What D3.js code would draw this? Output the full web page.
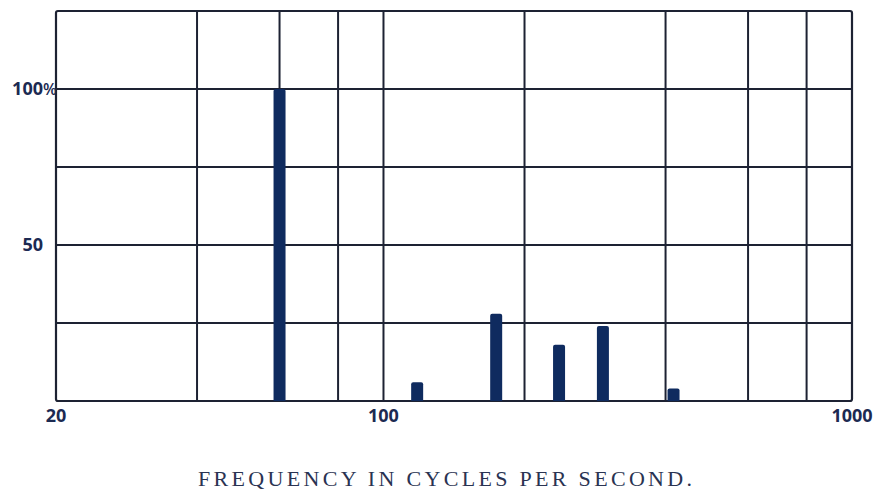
<!DOCTYPE html>
<meta charset="utf-8">
<style>
    body { margin: 0; background: #fff; }
    .tick-label {
        font-family: "Open Sans", sans-serif;
        font-weight: 700;
        font-size: 18px;
        fill: #1c2a52;
    }
    .title {
        font-family: "Liberation Serif", serif;
        font-size: 22px;
        fill: #2a3352;
    }
    .grid line { stroke: #1d2233; stroke-width: 2; }
    .bar { fill: #0f2b5f; }
</style>
<svg width="876" height="493"></svg>
<script src="https://d3js.org/d3.v7.min.js"></script>
<script>

    // measured percentages at each frequency
    var freqs = [60, 118, 174, 237, 294, 416];
    var amps = [100, 6, 28, 18, 24, 4];

    var xGrid = [40, 60, 80, 100, 200, 400, 600, 800];
    var yGrid = [25, 50, 75, 100];
    var xLabels = [20, 100, 1000];
    var yLabels = [50, 100];

    var svg = d3.select("svg"),
        margin = {top: 11, right: 24, bottom: 92, left: 56},
        width = +svg.attr("width") - margin.left - margin.right,
        height = +svg.attr("height") - margin.top - margin.bottom;

    var x = d3.scaleLog().domain([20, 1000]).range([0, width]),
        y = d3.scaleLinear().domain([0, 125]).range([height, 0]);

    var g = svg.append("g")
        .attr("transform", "translate(" + margin.left + "," + margin.top + ")");

    var grid = g.append("g").attr("class", "grid");

    grid.selectAll(".vx")
        .data(xGrid)
        .enter().append("line")
        .attr("x1", function(d) { return x(d); })
        .attr("x2", function(d) { return x(d); })
        .attr("y1", 0)
        .attr("y2", height);

    grid.selectAll(".hy")
        .data(yGrid)
        .enter().append("line")
        .attr("x1", 0)
        .attr("x2", width)
        .attr("y1", function(d) { return y(d); })
        .attr("y2", function(d) { return y(d); });

    // frame, slightly rounded like the drawing
    g.append("rect")
        .attr("x", 0)
        .attr("y", 0)
        .attr("width", width)
        .attr("height", height)
        .attr("rx", 2)
        .attr("fill", "none")
        .attr("stroke", "#1d2233")
        .attr("stroke-width", 2.2);

    var barW = 12;
    g.selectAll(".bar")
        .data(freqs)
        .enter().append("path")
        .attr("class", "bar")
        .attr("d", function(d, i) {
            var x0 = x(d) - barW / 2, y0 = y(amps[i]), y1 = y(0), r = 2;
            return "M" + x0 + "," + y1 +
                "V" + (y0 + r) +
                "Q" + x0 + "," + y0 + " " + (x0 + r) + "," + y0 +
                "H" + (x0 + barW - r) +
                "Q" + (x0 + barW) + "," + y0 + " " + (x0 + barW) + "," + (y0 + r) +
                "V" + y1 + "Z";
        });

    // x labels
    g.selectAll(".xl")
        .data(xLabels)
        .enter().append("text")
        .attr("class", "tick-label")
        .attr("x", function(d) { return x(d); })
        .attr("y", height + 21)
        .attr("text-anchor", "middle")
        .text(function(d) { return d; });

    // y labels
    g.selectAll(".yl")
        .data(yLabels)
        .enter().append("text")
        .attr("class", "tick-label")
        .attr("x", -13)
        .attr("y", function(d) { return y(d) + 6; })
        .attr("text-anchor", "end")
        .text(function(d) { return d; });

    g.append("text")
        .attr("class", "tick-label")
        .attr("x", -13)
        .attr("y", y(100) + 6)
        .style("font-size", "16px")
        .style("font-weight", "600")
        .text("%");

    svg.append("text")
        .attr("class", "title")
        .attr("x", 198)
        .attr("y", 486)
        .attr("textLength", 494)
        .attr("lengthAdjust", "spacing")
        .text("FREQUENCY  IN  CYCLES  PER  SECOND.");

</script>
